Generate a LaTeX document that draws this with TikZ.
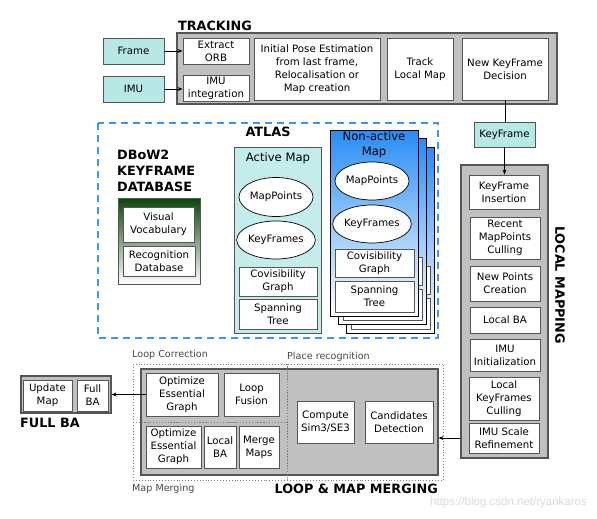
\documentclass[tikz,border=0pt]{standalone}
\usepackage{fontspec}
\setmainfont{DejaVu Sans}
\newfontfamily\wmfont{Liberation Sans}
\usetikzlibrary{arrows.meta,shapes.geometric}
\definecolor{cyanbox}{RGB}{184,232,230}
\definecolor{activefill}{RGB}{196,236,234}
\definecolor{grayfill}{RGB}{192,192,192}
\definecolor{grayline}{RGB}{85,85,85}
\definecolor{atlasblue}{RGB}{60,150,235}
\definecolor{nablue}{RGB}{40,140,245}
\definecolor{dgreen}{RGB}{10,70,10}
\definecolor{lbl}{RGB}{80,70,70}
\tikzset{
  every node/.style={font=\fontsize{10.2}{13}\selectfont, inner sep=0pt, align=center},
  wbox/.style={draw=grayline, line width=0.9pt, fill=white},
  cbox/.style={draw=grayline, line width=0.9pt, fill=cyanbox},
  gbox/.style={draw=grayline, line width=1.1pt, fill=grayfill},
  ell/.style={ellipse, draw=black, line width=0.7pt, fill=white},
  title/.style={font=\fontsize{12.8}{16}\selectfont\bfseries},
  maplabel/.style={font=\fontsize{11.6}{15}\selectfont},
  dotbox/.style={draw=gray, line width=0.9pt, dotted},
  sublabel/.style={font=\fontsize{9.6}{11}\selectfont, text=lbl, anchor=west},
  arr/.style={-{Stealth[length=5pt,width=4pt]}, line width=0.9pt},
  plain/.style={line width=0.9pt}
}
\begin{document}
\begin{tikzpicture}[x=1pt,y=-1pt]
\useasboundingbox (0,0) rectangle (597,519);
\fill[white] (0,0) rectangle (597,519);

% ---------------- TRACKING ----------------
\node[title] (ttrack) at (215,26) {TRACKING};
\node[gbox, minimum width=380, minimum height=71] (track) at (367,68.5) {};
\node[wbox, minimum width=66, minimum height=26] (eorb) at (216,51) {Extract\\ORB};
\node[wbox, minimum width=66, minimum height=26] (imuint) at (216,88) {IMU\\integration};
\node[wbox, minimum width=126, minimum height=62] (initpose) at (317,69) {Initial Pose Estimation\\from last frame,\\Relocalisation or\\Map creation};
\node[wbox, minimum width=66, minimum height=62] (tlm) at (420,69) {Track\\Local Map};
\node[wbox, minimum width=86, minimum height=62] (nkf) at (505,69) {New KeyFrame\\Decision};
\node[cbox, minimum width=61, minimum height=26] (frame) at (133.5,51) {Frame};
\node[cbox, minimum width=61, minimum height=26] (imu) at (133.5,89) {IMU};
\draw[arr] (frame.east) -- (eorb.west);
\draw[arr] (imu.east) -- (imu.east -| imuint.west);

% ---------------- KEYFRAME + LOCAL MAPPING ----------------
\node[cbox, minimum width=61, minimum height=25] (kf) at (504.5,134.5) {KeyFrame};
\draw[plain] (nkf.south) -- (nkf.south |- kf.north);
\node[gbox, minimum width=87, minimum height=293] (lm) at (504.5,311.5) {};
\node[wbox, minimum width=70, minimum height=34] (kfins) at (504,192) {KeyFrame\\Insertion};
\node[wbox, minimum width=70, minimum height=42] (rmc) at (505,238) {Recent\\MapPoints\\Culling};
\node[wbox, minimum width=70, minimum height=35] (npc) at (505,283.5) {New Points\\Creation};
\node[wbox, minimum width=70, minimum height=26] (lba) at (505,320) {Local BA};
\node[wbox, minimum width=70, minimum height=32] (imuinit) at (505,355) {IMU\\Initialization};
\node[wbox, minimum width=70, minimum height=43] (lkc) at (504,398.5) {Local\\KeyFrames\\Culling};
\node[wbox, minimum width=70, minimum height=30] (imusr) at (504,438) {IMU Scale\\Refinement};
\draw[arr] (kf.south) -- (kf.south |- kfins.north);
\node[title, rotate=-90] (tlmap) at (560,285) {LOCAL MAPPING};

% ---------------- ATLAS ----------------
\draw[atlasblue, line width=1.8pt, dash pattern=on 7pt off 5pt] (98,123) rectangle (438,338);
\node[title] (tatlas) at (268,132) {ATLAS};
\node[title, anchor=north west, align=left] (tdbow) at (117,150) {DBoW2\\KEYFRAME\\DATABASE};
\node[draw=grayline, line width=0.9pt, top color=dgreen, bottom color=white, minimum width=82, minimum height=86] (dbow) at (159,241) {};
\node[wbox, minimum width=71, minimum height=35] (vv) at (158.5,224.5) {Visual\\Vocabulary};
\node[wbox, minimum width=72, minimum height=30] (rd) at (159,261) {Recognition\\Database};

\node[draw=grayline, line width=0.9pt, fill=activefill, minimum width=87, minimum height=186] (active) at (277.5,240) {};
\node[maplabel] (tactive) at (278,158) {Active Map};
\node[ell, minimum width=74, minimum height=39] (mp1) at (276,197) {MapPoints};
\node[ell, minimum width=74, minimum height=38] (kf1) at (276,240) {KeyFrames};
\node[wbox, minimum width=78, minimum height=29] (cg1) at (278,281.5) {Covisibility\\Graph};
\node[wbox, minimum width=78, minimum height=30] (st1) at (278,314) {Spanning\\Tree};

% non-active stack (back copies)
\node[draw=black, line width=0.9pt, top color=nablue, bottom color=white, minimum width=88, minimum height=186] (na3) at (390,240) {};
\node[wbox, minimum width=79, minimum height=28] (cg3) at (390.5,280) {};
\node[wbox, minimum width=79, minimum height=31] (st3) at (390.5,313.5) {};
\node[draw=black, line width=0.9pt, top color=nablue, bottom color=white, minimum width=88, minimum height=186] (na2) at (382,231) {};
\node[wbox, minimum width=79, minimum height=28] (cg2b) at (382.5,271) {};
\node[wbox, minimum width=79, minimum height=31] (st2b) at (382.5,304.5) {};
\node[draw=black, line width=0.9pt, top color=nablue, bottom color=white, minimum width=88, minimum height=186] (na1) at (374,223) {};
\node[maplabel] (tna) at (374,144.5) {Non-active\\Map};
\node[ell, minimum width=74, minimum height=38] (mp2) at (372,181) {MapPoints};
\node[ell, minimum width=74, minimum height=38] (kf2) at (372,224) {KeyFrames};
\node[wbox, minimum width=79, minimum height=28] (cg2) at (374.5,263) {Covisibility\\Graph};
\node[wbox, minimum width=79, minimum height=31] (st2) at (374.5,296.5) {Spanning\\Tree};

% ---------------- LOOP & MAP MERGING ----------------
\node[gbox, minimum width=297, minimum height=106] (lmm) at (289.5,422) {};
\draw[dotbox] (133,364) rectangle (287,422);
\draw[dotbox] (133,422) rectangle (287,480);
\draw[dotbox] (287,364) rectangle (443,480);
\node[sublabel] (tlc) at (132,355) {Loop Correction};
\node[sublabel] (tpr) at (287,357) {Place recognition};
\node[sublabel] (tmm) at (132,489) {Map Merging};
\node[title, anchor=east] (tloop) at (438,489) {LOOP \& MAP MERGING};
\node[wbox, minimum width=72, minimum height=43] (oeg1) at (182,394.5) {Optimize\\Essential\\Graph};
\node[wbox, minimum width=55, minimum height=43] (lf) at (251.5,394.5) {Loop\\Fusion};
\node[wbox, minimum width=55, minimum height=42] (oeg2) at (173.5,447) {Optimize\\Essential\\Graph};
\node[wbox, minimum width=32, minimum height=42] (lba2) at (220,447) {Local\\BA};
\node[wbox, minimum width=40, minimum height=42] (mmaps) at (259,447) {Merge\\Maps};
\node[wbox, minimum width=57, minimum height=42] (cs) at (325.5,422) {Compute\\Sim3/SE3};
\node[wbox, minimum width=68, minimum height=42] (cd) at (399,422) {Candidates\\Detection};
\draw[arr] (lm.west |- imusr) -- (lmm.east |- imusr);

% ---------------- FULL BA ----------------
\node[gbox, minimum width=90, minimum height=37] (fullba) at (66,394.5) {};
\node[wbox, minimum width=49, minimum height=31] (um) at (47.5,395.5) {Update\\Map};
\node[wbox, minimum width=31, minimum height=31] (fba) at (92.5,395.5) {Full\\BA};
\node[title, anchor=west] (tfullba) at (20,423) {FULL BA};
\draw[arr] (oeg1.west) -- (fullba.east |- oeg1.west);

% watermark
\node[font=\wmfont\fontsize{11.5}{14}\selectfont, text=black!14, anchor=west] (wm) at (430,503) {https://blog.csdn.net/ryankaros};
\end{tikzpicture}
\end{document}
